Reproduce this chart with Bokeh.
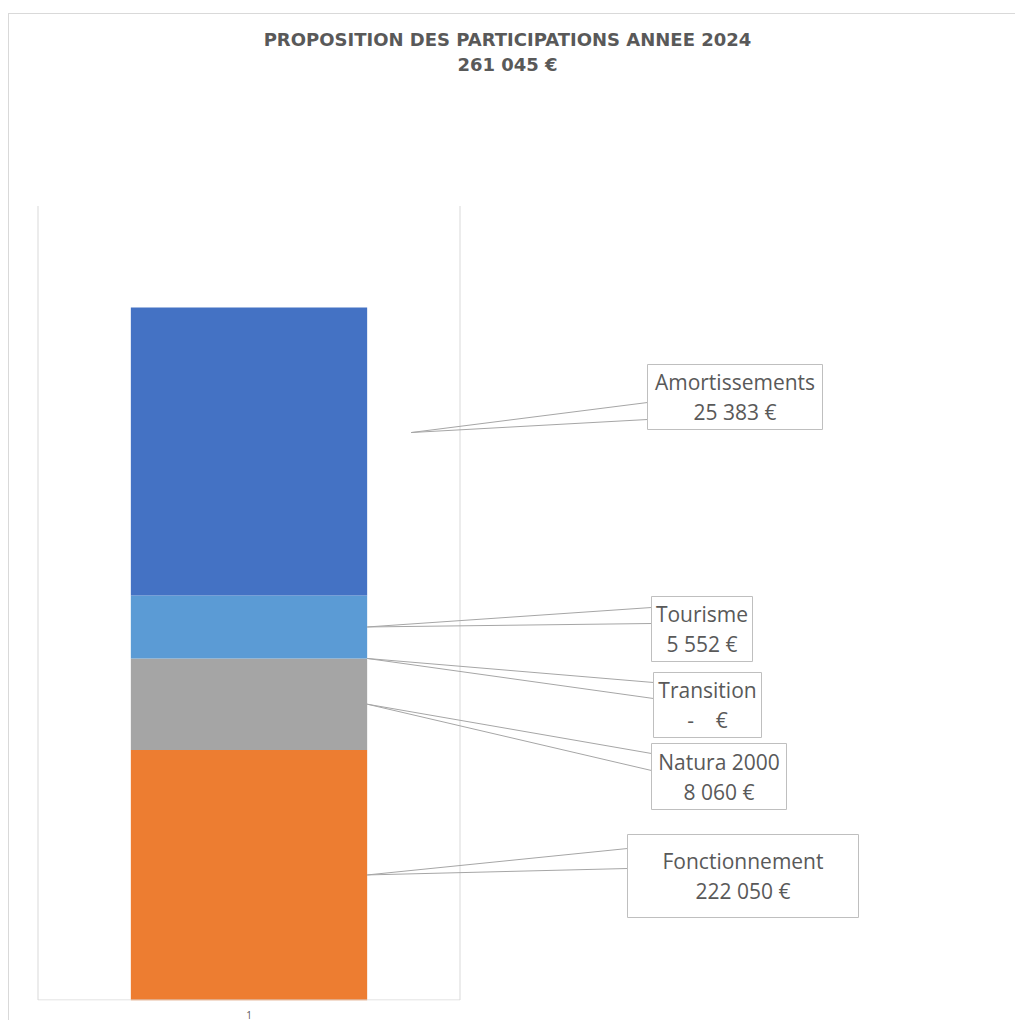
from bokeh.plotting import figure
from bokeh.models import Range1d, FixedTicker, Title, ColumnDataSource
from bokeh.core.properties import value
from bokeh.embed import file_html
from bokeh.resources import INLINE

# ---------------- data ----------------
categories = ["1"]
series_names = ["Fonctionnement", "Natura 2000", "Transition", "Tourisme", "Amortissements"]
series_values = [222050, 8060, 0, 5552, 25383]
series_colors = ["#ED7D31", "#A5A5A5", "#FFC000", "#5B9BD5", "#4472C4"]
title_text = "PROPOSITION DES PARTICIPATIONS ANNEE 2024"
y_axis_min = 200000
y_axis_max = 270000


def euro(v):
    if v == 0:
        return "-\u00a0\u00a0\u00a0\u00a0\u20ac"
    return "{:,}".format(v).replace(",", " ") + " \u20ac"


total_text = euro(sum(series_values))

# ---------------- layout (page pixels) ----------------
CANVAS_W, CANVAS_H = 1007, 1007
PAGE_X0, PAGE_Y0 = 9, 14            # page position of canvas origin
CAT_LEFT_PX = 37.5                  # category boundary (x = 0)
CAT_PX = 422.0                      # pixels per category
BASE_PX = 999.5                     # page y of y_axis_min
PLOT_PX = 794.0                     # pixels from axis min to axis max
FRAME_L, FRAME_R, FRAME_T, FRAME_B = 36, 978, 74, 1000
BAR_WIDTH = 0.56

ypp = (y_axis_max - y_axis_min) / PLOT_PX   # data units per pixel


def dx(px):
    return (px - CAT_LEFT_PX) / CAT_PX


def dy(py):
    return y_axis_min + (BASE_PX - py) * ypp


# label boxes: (left, top, right, bottom) in page px, in series order
box_px = [
    (627, 834, 858, 917),
    (651, 743, 786, 809),
    (653, 672, 761, 737),
    (651, 596, 752, 661),
    (647, 364, 822, 429),
]
# leader attach points on the box left edge (page y)
attach_px = [(848, 868), (753, 770), (682, 698), (607, 623), (402, 419)]
# apex offsets (px) from bar edge / segment middle
apex_off = [(0, 0), (0, 0), (0, 0), (0, 0), (44, -19)]
LINE_GAP = 15

p = figure(
    width=CANVAS_W, height=CANVAS_H,
    x_range=Range1d(dx(FRAME_L), dx(FRAME_R)),
    y_range=Range1d(dy(FRAME_B), dy(FRAME_T)),
    output_backend="svg", toolbar_location=None, tools="",
    y_axis_location=None,
    min_border_left=FRAME_L - PAGE_X0,
    min_border_right=PAGE_X0 + CANVAS_W - FRAME_R,
    min_border_top=FRAME_T - PAGE_Y0,
    min_border_bottom=PAGE_Y0 + CANVAS_H - FRAME_B,
    outline_line_color=None,
    background_fill_color="white", border_fill_color="white",
    styles={"position": "relative", "top": "13px", "left": "8px", "margin-bottom": "-30px",
            "border-top": "1px solid #d9d9d9", "border-left": "1px solid #d9d9d9"},
)
p.grid.visible = False

# titles (first added sits closest to the frame)
for txt, so in [(total_text, 0), (title_text, 4)]:
    p.add_layout(Title(text=txt, align="center", standoff=so,
                       text_font="DejaVu Sans", text_font_size="18px",
                       text_font_style="bold", text_color="#595959"), "above")

# category positions
cat_x = [i + 0.5 for i in range(len(categories))]

# gridlines at category boundaries
bounds = [float(i) for i in range(len(categories) + 1)]
p.segment(x0=bounds, x1=bounds, y0=[y_axis_min] * len(bounds), y1=[y_axis_max] * len(bounds),
          line_color="#d9d9d9", line_width=1)

# stacked bar
data = {"x": cat_x}
for n, v in zip(series_names, series_values):
    data[n] = [v]
src = ColumnDataSource(data)
p.vbar_stack(series_names, x="x", width=BAR_WIDTH, color=series_colors, line_color=None, source=src)

# horizontal axis line
p.segment(x0=[0], x1=[float(len(categories))], y0=[y_axis_min], y1=[y_axis_min],
          line_color="#d9d9d9", line_width=1)

# x axis
p.xaxis.ticker = FixedTicker(ticks=cat_x)
p.xaxis.major_label_overrides = {x: c for x, c in zip(cat_x, categories)}
p.xaxis.axis_line_color = None
p.xaxis.major_tick_line_color = None
p.xaxis.minor_tick_line_color = None
p.xaxis.major_label_standoff = 4
p.xaxis.major_label_text_font = "Open Sans"
p.xaxis.major_label_text_font_size = "10px"
p.xaxis.major_label_text_color = "#595959"

# data labels with callouts
bar_right = cat_x[0] + BAR_WIDTH / 2
cum = 0
ax0, ay0, ax1, ay1 = [], [], [], []
bl, br, bt, bb = [], [], [], []
tx, ty_name, ty_val, names, vals = [], [], [], [], []
for i, (n, v) in enumerate(zip(series_names, series_values)):
    lo = max(cum, y_axis_min)
    hi = cum + v
    cum = hi
    mid = (lo + hi) / 2
    apx = bar_right + apex_off[i][0] / CAT_PX
    apy = mid - apex_off[i][1] * ypp
    L, T, R, B = box_px[i]
    for a in attach_px[i]:
        ax0.append(apx); ay0.append(apy)
        ax1.append(dx(L)); ay1.append(dy(a))
    bl.append(dx(L)); br.append(dx(R)); bt.append(dy(T)); bb.append(dy(B))
    cy = (T + B) / 2
    tx.append(dx((L + R) / 2))
    ty_name.append(dy(cy - LINE_GAP))
    ty_val.append(dy(cy + LINE_GAP))
    names.append(n)
    vals.append(euro(v))

p.segment(x0=ax0, y0=ay0, x1=ax1, y1=ay1, line_color="#a6a6a6", line_width=1)
p.quad(left=bl, right=br, top=bt, bottom=bb, fill_color="white", line_color="#bfbfbf", line_width=1)
p.text(x=tx, y=ty_name, text=names, text_align="center", text_baseline="middle",
       text_font=value("Open Sans"), text_font_size="21px", text_color="#595959")
p.text(x=tx, y=ty_val, text=vals, text_align="center", text_baseline="middle",
       text_font=value("Open Sans"), text_font_size="21px", text_color="#595959")

open("out.html", "w").write(file_html(p, INLINE))
